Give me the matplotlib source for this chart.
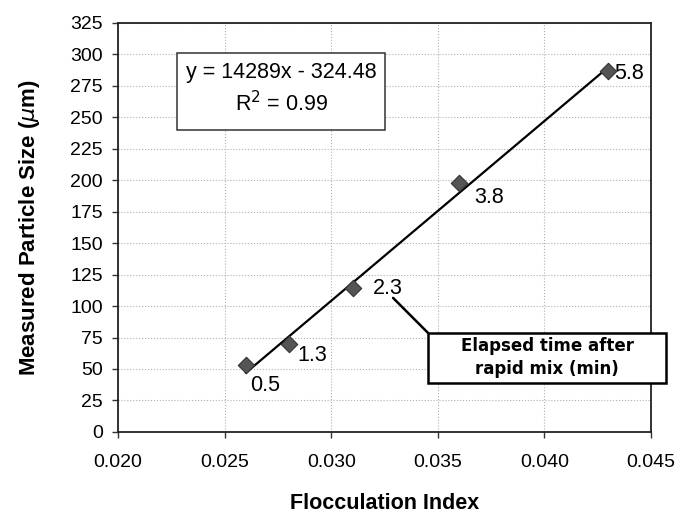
import matplotlib
matplotlib.use("Agg")
import matplotlib.pyplot as plt
from matplotlib.patches import Rectangle
import numpy as np

plt.rcParams['font.family'] = ['Liberation Sans', 'DejaVu Sans']

# Flocculation index vs. measured particle size, labelled by elapsed time (min)
floc_index = [0.026, 0.028, 0.031, 0.036, 0.043]
particle_size = [53, 70, 114, 198, 287]
elapsed_min = ["0.5", "1.3", "2.3", "3.8", "5.8"]

# Linear trendline coefficients
slope = 14289
intercept = -324.48
r_squared = 0.99

x_ticks = [0.020, 0.025, 0.030, 0.035, 0.040, 0.045]
y_ticks = list(range(0, 326, 25))

# label offsets in pixels (dx, dy) for each point label
label_offsets = [(4, -20), (9, -12), (20, 0), (15, -15), (6, -3)]

fig = plt.figure(figsize=(6.8, 5.21), dpi=100)
ax = fig.add_axes([0.1735, 0.171, 0.784, 0.785])

ax.set_xlim(0.020, 0.045)
ax.set_ylim(0, 325)
ax.set_xticks(x_ticks)
ax.set_xticklabels([f"{v:.3f}" for v in x_ticks], fontsize=14)
ax.set_yticks(y_ticks)
ax.set_yticklabels([str(v) for v in y_ticks], fontsize=14)
ax.tick_params(axis='both', direction='out', length=4, width=1, color='#333333')
ax.tick_params(axis='x', pad=12)
ax.tick_params(axis='y', pad=7)

ax.grid(True, color='#b0b0b0', linestyle=':', linewidth=0.8)
ax.set_axisbelow(True)
for sp in ax.spines.values():
    sp.set_linewidth(1.3)
    sp.set_color('#222222')

# trendline
xl = np.array([min(floc_index), max(floc_index)])
ax.plot(xl, slope * xl + intercept, color='black', linewidth=1.6, zorder=3)

# data points
ax.scatter(floc_index, particle_size, marker='D', s=70, color='#555555',
           edgecolors='#333333', linewidths=0.8, zorder=4)

for x, y, lab, (dx, dy) in zip(floc_index, particle_size, elapsed_min, label_offsets):
    ax.annotate(lab, (x, y), xytext=(dx, dy), textcoords='offset pixels',
                ha='left', va='center', fontsize=15.5)

# equation box
ax.add_patch(Rectangle((0.111, 0.738), 0.390, 0.189, transform=ax.transAxes,
                       facecolor='white', edgecolor='#333333', linewidth=1.1, zorder=5))
ax.text(0.306, 0.878, f"y = {slope}x - {abs(intercept):.2f}", transform=ax.transAxes,
        ha='center', va='center', fontsize=15.5, zorder=6)
ax.text(0.306, 0.803, f"R$^2$ = {r_squared:.2f}", transform=ax.transAxes,
        ha='center', va='center', fontsize=15.5, zorder=6)

# callout for the point labels
ax.add_patch(Rectangle((0.5816, 0.120), 0.4464, 0.122, transform=ax.transAxes,
                       facecolor='white', edgecolor='black', linewidth=1.8,
                       clip_on=False, zorder=5))
ax.text(0.805, 0.181, "Elapsed time after\nrapid mix (min)", transform=ax.transAxes,
        ha='center', va='center', fontsize=12, fontweight='bold',
        family=['DejaVu Sans'], linespacing=1.35, zorder=6)
ax.annotate("", xy=(0.5816, 0.242), xycoords='axes fraction',
            xytext=(0.0329, 106.5), textcoords='data',
            arrowprops=dict(arrowstyle='-', color='black', linewidth=1.8,
                            shrinkA=0, shrinkB=0), annotation_clip=False, zorder=6)

ax.set_xlabel("Flocculation Index", fontsize=15.5, fontweight='bold', labelpad=16)
ax.set_ylabel("Measured Particle Size ($\\mu$m)", fontsize=16, fontweight='bold', labelpad=20)

fig.savefig("out.png", dpi=100)
